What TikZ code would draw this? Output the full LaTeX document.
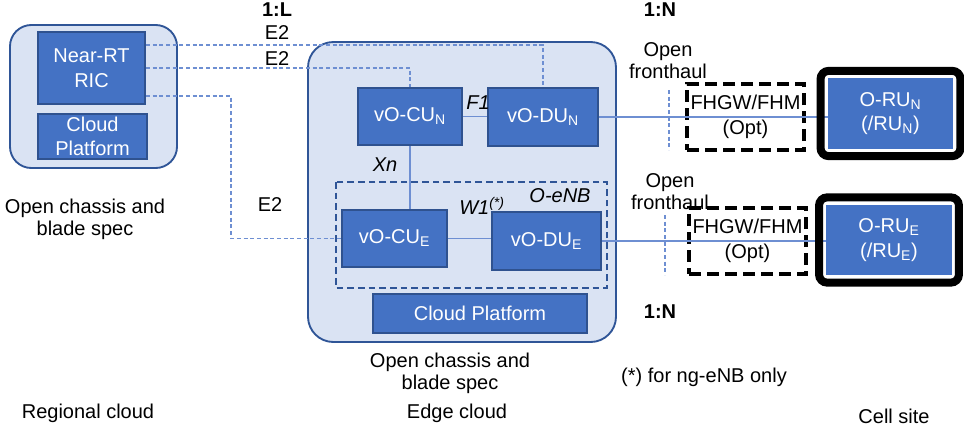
\documentclass[tikz,border=0pt]{standalone}
\usepackage{fontspec}
\setmainfont{Liberation Sans}
\usepackage{tikz}
\usetikzlibrary{positioning}

\definecolor{cloudfill}{HTML}{DAE3F3}
\definecolor{clouddraw}{HTML}{2F5597}
\definecolor{funcfill}{HTML}{4472C4}
\definecolor{funcdraw}{HTML}{2F528F}
\definecolor{linkblue}{HTML}{6E8FD2}

\begin{document}
\begin{tikzpicture}[x=0.75pt, y=-0.75pt,
    font=\fontsize{15}{16.5}\selectfont,
    cloud/.style={draw=clouddraw, line width=1.4pt, fill=cloudfill, rounded corners=16pt},
    func/.style={draw=funcdraw, line width=1.5pt, fill=funcfill, text=white, align=center, inner sep=0pt,
                 font=\fontsize{15}{18.5}\selectfont},
    fhbox/.style={draw=black, line width=2.6pt, dash pattern=on 9pt off 4.5pt, align=center, inner sep=0pt,
                  minimum width=87.75pt, minimum height=49.5pt, font=\fontsize{15}{18.5}\selectfont},
    rubox/.style={fill=funcfill, text=white, align=center, inner sep=0pt,
                  minimum width=94pt, minimum height=53pt, font=\fontsize{15}{18.5}\selectfont},
    lbl/.style={inner sep=0pt, align=center},
    link/.style={draw=linkblue, line width=0.8pt},
    e2/.style={draw=linkblue, line width=0.8pt, dash pattern=on 3pt off 2pt}]
    \useasboundingbox (0,0) rectangle (964,429);

    % Clouds
    \draw[cloud] (10,25) rectangle (177,168);
    \draw[cloud, rounded corners=19pt] (308,42) rectangle (616,342);
    \draw[draw=clouddraw, line width=1.4pt, dash pattern=on 5pt off 3pt] (336,182) rectangle (607,288);

    % Nodes
    \node[func, minimum width=80.25pt, minimum height=54pt] (ric) at (91.5,68) {Near-RT\\RIC};
    \node[func, minimum width=81.75pt, minimum height=33.75pt] (cpl) at (92.5,136.5) {Cloud\\Platform};
    \node[func, minimum width=78pt, minimum height=42.75pt] (cun) at (410,116.5) {vO-CU\textsubscript{N}};
    \node[func, minimum width=82.5pt, minimum height=43.5pt] (dun) at (543,117) {vO-DU\textsubscript{N}};
    \node[func, minimum width=78.75pt, minimum height=42.75pt] (cue) at (394.5,238.5) {vO-CU\textsubscript{E}};
    \node[func, minimum width=81.75pt, minimum height=43.5pt] (due) at (546.5,241) {vO-DU\textsubscript{E}};
    \node[func, minimum width=160.5pt, minimum height=29.25pt] (cpe) at (480,313.5) {Cloud Platform};
    \node[fhbox] (fhn) at (745.5,117) {FHGW/FHM\\(Opt)};
    \node[fhbox] (fhe) at (747.5,241) {FHGW/FHM\\(Opt)};
    \node[rubox] (run) at (890.5,113.5) {O-RU\textsubscript{N}\\(/RU\textsubscript{N})};
    \node[rubox] (rue) at (889,240) {O-RU\textsubscript{E}\\(/RU\textsubscript{E})};

    % Labels
    \node[lbl, font=\fontsize{15}{16.5}\selectfont\bfseries] (ratl) at (277,10) {1:L};
    \node[lbl] (e2a) at (277,33) {E2};
    \node[lbl] (e2b) at (277,59) {E2};
    \node[lbl] (e2c) at (270,205) {E2};
    \node[lbl] (ocl) at (85,219) {Open chassis and\\blade spec};
    \node[lbl] (reg) at (88,413) {Regional cloud};
    \node[lbl, font=\fontsize{15}{16.5}\selectfont\itshape] (f1) at (478,103) {F1};
    \node[lbl, font=\fontsize{15}{16.5}\selectfont\itshape] (xn) at (385,165) {Xn};
    \node[lbl, font=\fontsize{15}{16.5}\selectfont\itshape] (oenb) at (560,196) {O-eNB};
    \node[lbl, font=\fontsize{15}{16.5}\selectfont\itshape] (w1) at (482,206) {W1\textsuperscript{(*)}};
    \node[lbl] (oce) at (450,373) {Open chassis and\\blade spec};
    \node[lbl] (edg) at (457,413) {Edge cloud};
    \node[lbl, font=\fontsize{15}{16.5}\selectfont\bfseries] (ratn) at (660,10) {1:N};
    \node[lbl, font=\fontsize{15}{16.5}\selectfont\bfseries] (ratm) at (660,312) {1:N};
    \node[lbl] (ofhn) at (668,61) {Open\\fronthaul};
    \node[lbl] (ofhe) at (670,192) {Open\\fronthaul};
    \node[lbl] (note) at (704,377) {(*) for ng-eNB only};
    \node[lbl] (cell) at (894,416) {Cell site};
    \coordinate (e2x) at (231,0);
    \coordinate (fna) at (669,90);
    \coordinate (fnb) at (669,150);
    \coordinate (fea) at (665,215);
    \coordinate (feb) at (665,275);

    % Edges
    \draw[e2] ([yshift=-10.5pt]ric.north east) -| (dun.north);
    \draw[e2] (ric.east) -| (cun.north);
    \draw[e2] ([yshift=6.75pt]ric.south east) -- ([yshift=6.75pt]ric.south east -| e2x) |- (cue.west);
    \draw[link] (cun.east) -- (cun.east -| dun.west);
    \draw[link] (cun.south) -- (cun.south |- cue.north);
    \draw[link] (cue.east) -- (cue.east -| due.west);
    \draw[link] (dun.east) -- (dun.east -| run.west);
    \draw[link] (due.east) -- (due.east -| rue.west);
    \draw[e2] (fna) -- (fnb);
    \draw[e2] (fea) -- (feb);

    % RU frames
    \draw[line width=6pt, rounded corners=6pt] ([shift={(-5.25pt,5.25pt)}]run.north west) rectangle ([shift={(5.25pt,-5.25pt)}]run.south east);
    \draw[line width=6pt, rounded corners=6pt] ([shift={(-5.25pt,5.25pt)}]rue.north west) rectangle ([shift={(5.25pt,-5.25pt)}]rue.south east);
\end{tikzpicture}
\end{document}
